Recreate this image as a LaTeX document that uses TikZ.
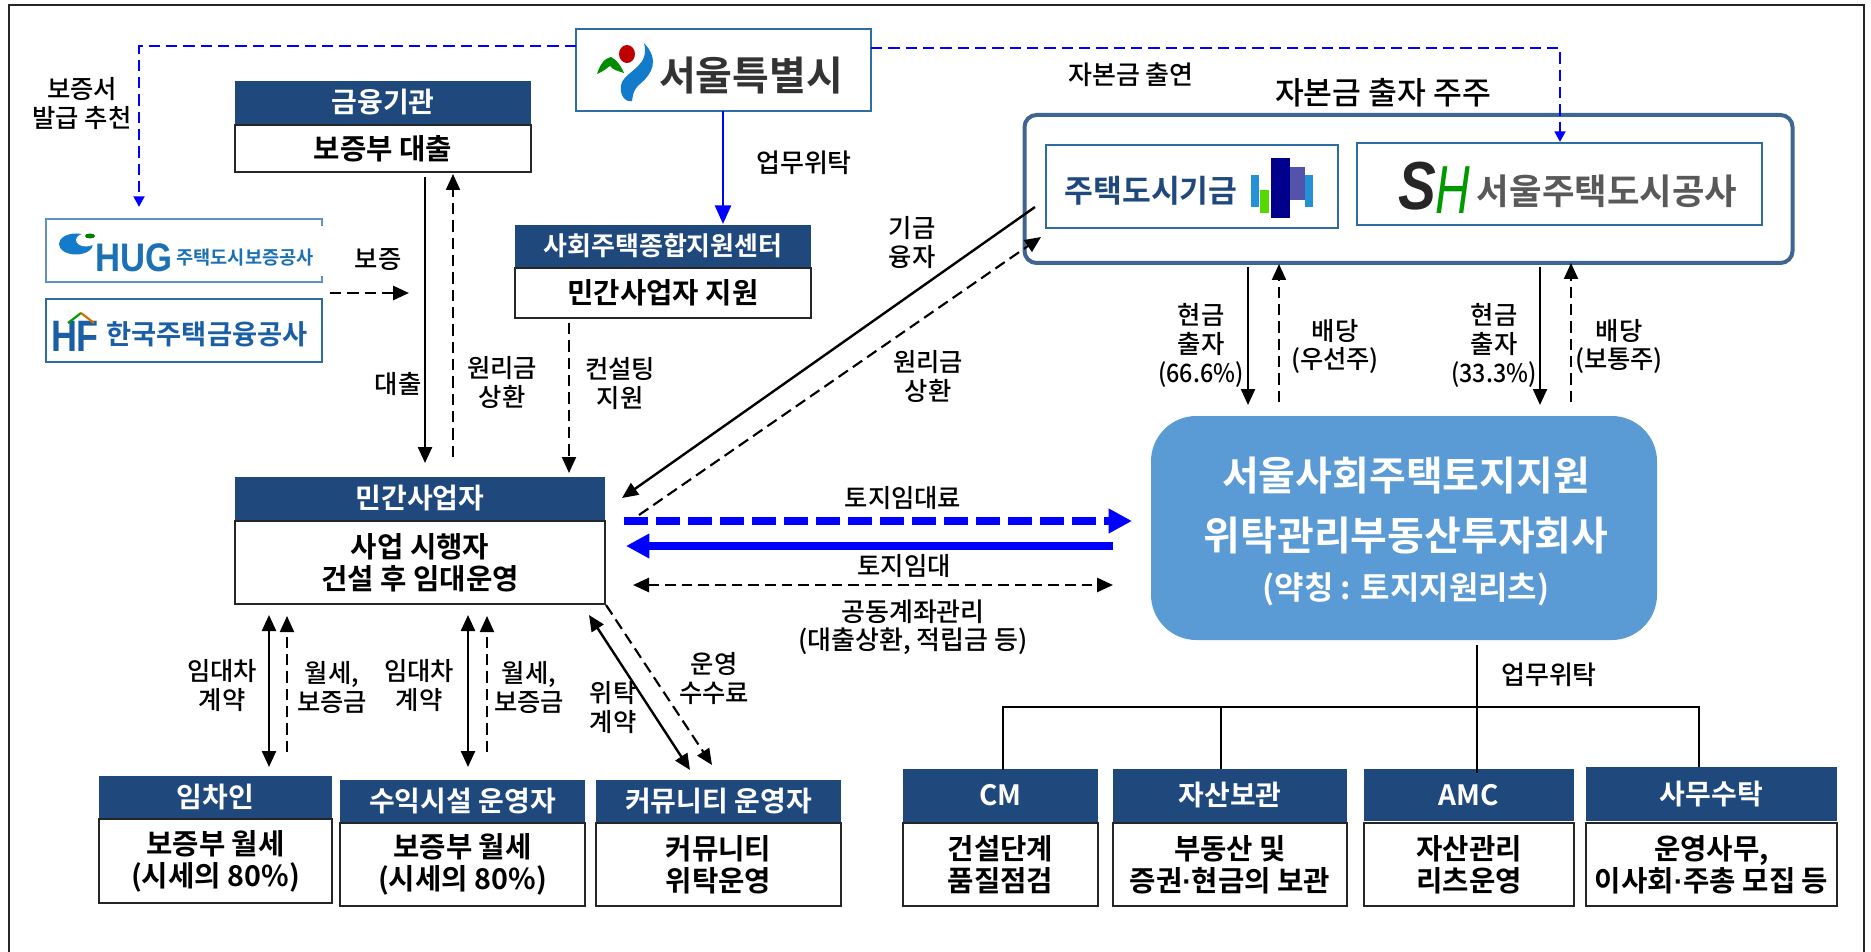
\documentclass[tikz,border=0pt]{standalone}
\usepackage{fontspec}
\setmainfont{Noto Sans CJK KR Medium}
\newfontfamily\boldkr{Noto Sans CJK KR Bold}
\newfontfamily\latinlogo{Liberation Sans}
\usetikzlibrary{arrows.meta}
\definecolor{hdrblue}{HTML}{1F497D}
\definecolor{mainblue}{HTML}{5B9BD5}
\definecolor{fundline}{HTML}{3F6592}
\definecolor{logoline}{HTML}{2E6CA4}
\definecolor{hugblue}{HTML}{1C70B4}
\definecolor{hfblue}{HTML}{1A5FA6}
\definecolor{pureblue}{HTML}{0000FF}
\newcommand{\boxn}[7][]{%
  \pgfmathsetmacro\bw{(#5-#3)*0.75}\pgfmathsetmacro\bh{(#6-#4)*0.75}%
  \node[#1,minimum width=\bw pt,minimum height=\bh pt] (#2) at ({(#3+#5)/2},{(#4+#6)/2}) {#7};}
\newcommand{\narrowdot}{{\latinlogo\bfseries ·}}
\tikzset{
  hdrbox/.style={fill=hdrblue,text=white,inner sep=0pt,outer sep=0pt,align=center,font=\boldkr\fontsize{21}{24}\selectfont},
  bodybox/.style={draw=black!85,line width=1.1pt,fill=white,inner sep=0pt,outer sep=0pt,align=center,font=\boldkr\fontsize{21.5}{24}\selectfont},
  logobox/.style={draw=logoline,line width=1pt,fill=white,inner sep=0pt,outer sep=0pt},
  lbl/.style={inner sep=0pt,align=center,yshift=-1pt,font=\fontsize{19}{21.5}\selectfont},
  thin solid/.style={draw=black,line width=1.8pt,-{Triangle[length=12pt,width=10.5pt]}},
  thin both/.style={thin solid,{Triangle[length=12pt,width=10.5pt]}-{Triangle[length=12pt,width=10.5pt]}},
  thin dash/.style={thin solid,line width=1.6pt,dash pattern=on 8.5pt off 4.5pt},
  blue dash/.style={draw=pureblue,line width=2.1pt,dash pattern=on 8.5pt off 4.5pt,-{Triangle[length=8pt,width=8pt]}},
  thick arrow/.style={draw=pureblue,line width=6pt,-{Triangle[length=17.5pt,width=17.5pt]}},
  tree line/.style={draw=black,line width=1.5pt}
}
\begin{document}
\begin{tikzpicture}[x=0.75pt,y=-0.75pt]
\useasboundingbox (0,0) rectangle (1871,952);
% outer frame (open at the bottom edge)
\draw[black!85,line width=1.5pt] (9,952) -- (9,5) -- (1864,5) -- (1864,952);

% Seoul
\boxn[logobox]{seoul}{576}{29}{871}{111}{}
\node[inner sep=0pt,text=black!80,font=\boldkr\fontsize{30}{33}\selectfont] (seoultxt) at (751,76) {서울특별시};
\fill[red!75!black] (627,54) ellipse (8 and 9);
\fill[green!55!black] (597,74) .. controls (600,64) and (605,58) .. (611,57) .. controls (617,60) and (621,66) .. (624,73) .. controls (618,71) and (613,70) .. (610,66) .. controls (606,69) and (602,72) .. (597,74) -- cycle;
\fill[cyan!60!blue] (644,43) .. controls (660,60) and (652,74) .. (640,84) .. controls (632,91) and (633,97) .. (632,101) .. controls (624,103) and (618,92) .. (622,82) .. controls (628,70) and (650,66) .. (644,43) -- cycle;

% finance
\boxn[hdrbox]{finhead}{235}{81}{531}{124}{금융기관}
\boxn[bodybox]{finbody}{235}{125}{531}{172}{보증부 대출}

% support center
\boxn[hdrbox,font=\boldkr\fontsize{19.5}{22}\selectfont]{suphead}{515}{225}{811}{267}{사회주택종합지원센터}
\boxn[bodybox]{supbody}{515}{268}{811}{318}{민간사업자 지원}

% HUG and HF
\node[inner sep=0pt,minimum width=207pt,minimum height=47pt] (hug) at (184,250) {};
\draw[logoline!75,line width=1pt] (322,226) -- (322,219) -- (46,219) -- (46,282) -- (322,282) -- (322,276);
\fill[cyan!60!blue] (76,244) ellipse (17 and 10.5);
\fill[white] (86,240) ellipse (10 and 6.5);
\fill[green!50!black] (90,236) ellipse (5 and 2.5);
\node[inner sep=0pt,text=hugblue,font=\latinlogo\bfseries\fontsize{26}{30}\selectfont] (hugtxt) at (134,258) {\scalebox{1}[1.15]{HUG}};
\node[inner sep=0pt,text=hugblue,font=\boldkr\fontsize{14}{16}\selectfont] (hugname) at (245,258) {주택도시보증공사};
\boxn[logobox]{hf}{46}{299}{322}{362}{}
\node[inner sep=0pt,text=hfblue,font=\latinlogo\bfseries\fontsize{30}{33}\selectfont] (hftxt) at (75,336) {\scalebox{0.9}[1.1]{HF}};
\node[inner sep=0pt,text=hfblue,font=\boldkr\fontsize{20.5}{24}\selectfont] (hfname) at (207,334) {한국주택금융공사};
\draw[green!60!black,line width=1.6pt] (68,323) -- (81,313);
\draw[orange!85!black,line width=1.6pt] (81,313) -- (94,323);

% shareholders
\node[draw=fundline,line width=3pt,rounded corners=9pt,fill=white,inner sep=0pt,minimum width=576pt,minimum height=111pt] (fund) at (1408.5,189) {};
\boxn[logobox]{hcf}{1046}{145}{1338}{228}{}
\node[inner sep=0pt,text=hdrblue,font=\boldkr\fontsize{23.5}{26}\selectfont] (hcftxt) at (1151,191) {주택도시기금};
\fill[cyan!70!blue!90] (1251,175) rectangle (1259,207);
\fill[green!60!yellow!85!black] (1260,190) rectangle (1269,213);
\fill[blue!55!black] (1271,158) rectangle (1290,218);
\fill[blue!35!gray] (1290,167) rectangle (1305,200);
\fill[cyan!70!blue!90] (1305,175) rectangle (1313,207);
\boxn[logobox]{shbox}{1357}{143}{1762}{225}{}
\node[inner sep=0pt,text=black!85,font=\latinlogo\itshape\bfseries\fontsize{50}{52}\selectfont] (shs) at (1417,186) {\scalebox{0.85}[1.02]{S}};
\node[inner sep=0pt,text=green!60!black,font=\latinlogo\itshape\fontsize{50}{52}\selectfont] (shh) at (1453,190) {\scalebox{0.72}[1.02]{H}};
\node[inner sep=0pt,text=black!65,font=\boldkr\fontsize{26.5}{28}\selectfont] (shname) at (1607,191) {서울주택도시공사};

% main REIT
\node[fill=mainblue,rounded corners=34pt,inner sep=0pt,minimum width=379.5pt,minimum height=168pt] (reit) at (1404,528) {};
\node[inner sep=0pt,text=white,align=center,font=\boldkr\fontsize{30}{45}\selectfont] (reit1) at (1406,506) {서울사회주택토지지원\\위탁관리부동산투자회사};
\node[inner sep=0pt,text=white,font=\boldkr\fontsize{24}{27}\selectfont] (reit2) at (1406,589) {(약칭 : 토지지원리츠)};

% private operator
\boxn[hdrbox]{prihead}{235}{477}{605}{520}{민간사업자}
\boxn[bodybox]{pribody}{235}{521}{605}{604}{사업 시행자\\건설 후 임대운영}

% bottom row
\boxn[hdrbox]{tenhead}{99}{776}{332}{818}{임차인}
\boxn[bodybox]{tenbody}{99}{819}{332}{903}{보증부 월세\\(시세의 80\%)}
\boxn[hdrbox]{inchead}{340}{780}{585}{822}{수익시설 운영자}
\boxn[bodybox]{incbody}{340}{823}{585}{906}{보증부 월세\\(시세의 80\%)}
\boxn[hdrbox]{comhead}{596}{780}{841}{822}{커뮤니티 운영자}
\boxn[bodybox]{combody}{596}{823}{841}{906}{커뮤니티\\위탁운영}
\boxn[hdrbox]{cmhead}{903}{769}{1098}{822}{CM}
\boxn[bodybox]{cmbody}{903}{823}{1098}{906}{건설단계\\품질점검}
\boxn[hdrbox]{asthead}{1113}{769}{1347}{822}{자산보관}
\boxn[bodybox]{astbody}{1113}{823}{1347}{906}{부동산 및\\증권\narrowdot 현금의 보관}
\boxn[hdrbox]{amchead}{1364}{769}{1574}{821}{AMC}
\boxn[bodybox]{amcbody}{1364}{823}{1574}{906}{자산관리\\리츠운영}
\boxn[hdrbox]{admhead}{1586}{767}{1837}{821}{사무수탁}
\boxn[bodybox]{admbody}{1586}{823}{1837}{906}{운영사무,\\이사회\narrowdot 주총 모집 등}

% free ends of connectors
\coordinate (bl1) at (139,46);
\coordinate (bl2) at (139,207);
\coordinate (br1) at (1560,48);
\coordinate (br2) at (1560,142);
\coordinate (brs) at (871,48);
\coordinate (loanA) at (425,177);
\coordinate (loanB) at (425,463);
\coordinate (repA) at (453,457);
\coordinate (repB) at (453,174);
\coordinate (guA) at (330,293);
\coordinate (guB) at (409,293);
\coordinate (conA) at (569,323);
\coordinate (conB) at (569,473);
\coordinate (wtA) at (723,111);
\coordinate (wtB) at (723,224);
\coordinate (fdA) at (1035,207);
\coordinate (fdB) at (622,498);
\coordinate (fpA) at (639,515);
\coordinate (fpB) at (1041,237);
\coordinate (c1A) at (1248,267);
\coordinate (c1B) at (1248,405);
\coordinate (d1A) at (1279,402);
\coordinate (d1B) at (1279,264);
\coordinate (c2A) at (1540,267);
\coordinate (c2B) at (1540,405);
\coordinate (d2A) at (1571,402);
\coordinate (d2B) at (1571,263);
\coordinate (leaseA) at (624,521);
\coordinate (leaseB) at (1132,521);
\coordinate (landA) at (1113,546);
\coordinate (landB) at (626,546);
\coordinate (jointA) at (633,585);
\coordinate (jointB) at (1113,585);
\coordinate (t1A) at (269,615);
\coordinate (t1B) at (269,767);
\coordinate (t2A) at (287,752);
\coordinate (t2B) at (287,616);
\coordinate (t3A) at (468,615);
\coordinate (t3B) at (468,767);
\coordinate (t4A) at (487,752);
\coordinate (t4B) at (487,616);
\coordinate (t5A) at (589,615);
\coordinate (t5B) at (690,770);
\coordinate (t6A) at (606,605);
\coordinate (t6B) at (712,765);
\coordinate (trA) at (1477,645);
\coordinate (trB) at (1477,773);
\coordinate (trJ) at (1477,707);
\coordinate (trL) at (1003,707);
\coordinate (trM) at (1221,707);
\coordinate (trR) at (1699,707);
\coordinate (trL2) at (1003,770);
\coordinate (trM2) at (1221,769);
\coordinate (trR2) at (1699,767);

% connectors
\draw[blue dash] (seoul.west |- bl1) -- (bl1) -- (bl2);
\draw[blue dash] (brs) -- (br1) -- (br2);
\draw[draw=pureblue,line width=2.1pt,-{Triangle[length=14pt,width=12pt]}] (wtA) -- (wtB);
\draw[thin solid] (loanA) -- (loanB);
\draw[thin dash] (repA) -- (repB);
\draw[thin dash,line width=2pt] (guA) -- (guB);
\draw[thin dash] (conA) -- (conB);
\draw[thin solid] (fdA) -- (fdB);
\draw[thin dash] (fpA) -- (fpB);
\draw[thin solid] (c1A) -- (c1B);
\draw[thin dash] (d1A) -- (d1B);
\draw[thin solid] (c2A) -- (c2B);
\draw[thin dash] (d2A) -- (d2B);
\draw[thick arrow,dash pattern=on 18pt off 6pt] (leaseA) -- (leaseB);
\draw[thick arrow] (landA) -- (landB);
\draw[thin both,line width=2pt,dash pattern=on 8pt off 4.5pt] (jointA) -- (jointB);
\draw[thin both] (t1A) -- (t1B);
\draw[thin dash] (t2A) -- (t2B);
\draw[thin both] (t3A) -- (t3B);
\draw[thin dash] (t4A) -- (t4B);
\draw[thin both] (t5A) -- (t5B);
\draw[thin dash] (t6A) -- (t6B);
\draw[tree line] (trA) -- (trB);
\draw[tree line] (trL2) -- (trL) -- (trM) -- (trJ) -- (trR) -- (trR2);
\draw[tree line] (trM) -- (trM2);

% labels
\node[lbl] (l1) at (82,102) {보증서\\발급 추천};
\node[lbl] (l2) at (378,258) {보증};
\node[lbl] (l3) at (398,383) {대출};
\node[lbl] (l4) at (502,381) {원리금\\상환};
\node[lbl] (l5) at (620,382) {컨설팅\\지원};
\node[lbl,font=\fontsize{19.5}{22}\selectfont] (l6) at (804,161) {업무위탁};
\node[lbl] (l7) at (912,241) {기금\\융자};
\node[lbl] (l8) at (928,375) {원리금\\상환};
\node[lbl,font=\fontsize{19.5}{22}\selectfont] (l9) at (1131,73) {자본금 출연};
\node[lbl,font=\fontsize{23.5}{26}\selectfont] (l10) at (1383,91) {자본금 출자 주주};
\node[lbl] (l11) at (1201,344) {현금\\출자\\\scalebox{0.92}[1]{(66.6\%)}};
\node[lbl] (l12) at (1335,345) {배당\\(우선주)};
\node[lbl] (l13) at (1494,344) {현금\\출자\\\scalebox{0.92}[1]{(33.3\%)}};
\node[lbl] (l14) at (1619,345) {배당\\(보통주)};
\node[lbl] (l15) at (903,497) {토지임대료};
\node[lbl] (l16) at (904,565) {토지임대};
\node[lbl,font=\fontsize{19.5}{21.5}\selectfont] (l17) at (913,626) {공동계좌관리\\(대출상환, 적립금 등)};
\node[lbl] (l18) at (222,684) {임대차\\계약};
\node[lbl] (l19) at (332,686) {월세,\\보증금};
\node[lbl] (l20) at (419,684) {임대차\\계약};
\node[lbl] (l21) at (529,686) {월세,\\보증금};
\node[lbl] (l22) at (613,706) {위탁\\계약};
\node[lbl] (l23) at (714,677) {운영\\수수료};
\node[lbl,font=\fontsize{19.5}{22}\selectfont] (l24) at (1549,673) {업무위탁};
\end{tikzpicture}
\end{document}
